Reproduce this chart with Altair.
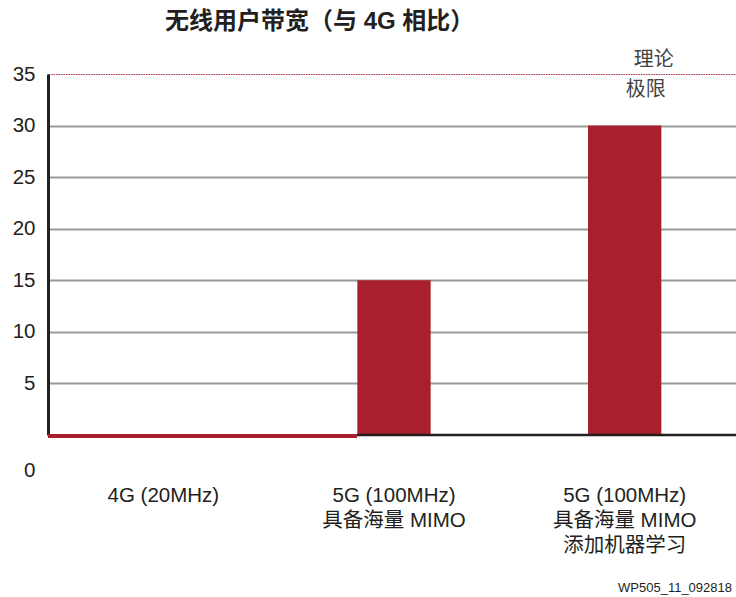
import altair as alt
import pandas as pd

categories = ["4G (20MHz)", "5G (100MHz)|具备海量 MIMO", "5G (100MHz)|具备海量 MIMO|添加机器学习"]
values = [1, 15, 30]
y_ticks = [0, 5, 10, 15, 20, 25, 30, 35]
title_text = "无线用户带宽（与 4G 相比）"
limit_value = 35
limit_labels = ["理论", "极限"]
footnote = "WP505_11_092818"

FONT = "Liberation Sans, Noto Sans CJK SC, sans-serif"
RED = "#a8202e"
W = 688

df = pd.DataFrame({"cat": categories, "val": values})
bars_df = df.iloc[1:]

x_scale = alt.Scale(paddingInner=0, paddingOuter=0, range=[0, 692])
x_enc = alt.X("cat:N", sort=categories, scale=x_scale,
              axis=alt.Axis(title=None, domain=False, ticks=False, labelAngle=0,
                            labelExpr="split(datum.label, '|')", labelFont=FONT,
                            labelFontSize=20.5, labelColor="#231f20", labelPadding=50,
                            labelBaseline="top", labelLineHeight=25))
y_scale = alt.Scale(domain=[0, 35], nice=False, zero=True)

base = alt.Chart(df).encode(
    x=x_enc,
    y=alt.Y("val:Q", scale=y_scale,
            axis=alt.Axis(title=None, values=y_ticks, ticks=False, domainColor="#231f20",
                          domainWidth=3, labelFont=FONT, labelFontSize=20.5, labelColor="#231f20",
                          labelPadding=13,
                          labelOffset=alt.ExprRef("datum.value === 0 ? 35 : 0"),
                          grid=True,
                          gridColor=alt.ExprRef("datum.value === 35 ? '#c0404f' : (datum.value === 0 ? 'transparent' : '#999999')"),
                          gridDash=alt.ExprRef("datum.value === 35 ? [1.5, 1] : []"),
                          gridWidth=alt.ExprRef("datum.value === 35 ? 1.2 : 2"))),
)

bars = alt.Chart(bars_df).mark_bar(color=RED, width=alt.RelativeBandSize(0.318)).encode(
    x=alt.X("cat:N", sort=categories, scale=x_scale), y=alt.Y("val:Q", scale=y_scale))

base_axis = base.mark_point(opacity=0)

red_strip = alt.Chart(df.iloc[:1]).mark_rule(color=RED, strokeWidth=4).encode(
    x=alt.value(0), x2=alt.value(309), y=alt.value(362))
black_base = alt.Chart(df.iloc[:1]).mark_rule(color="#231f20", strokeWidth=2.5).encode(
    x=alt.value(309), x2=alt.value(W), y=alt.Y("zero:Q", scale=y_scale)).transform_calculate(zero="0")

lim_df = pd.DataFrame({"cat": [categories[2]] * 2, "val": [limit_value] * 2,
                       "label": limit_labels, "row": [0, 1]})
lim1 = alt.Chart(lim_df.iloc[:1]).mark_text(font=FONT, fontSize=20, color="#444", dx=29, dy=-14).encode(
    x=alt.X("cat:N", sort=categories, scale=x_scale), y=alt.Y("val:Q", scale=y_scale), text="label:N")
lim2 = alt.Chart(lim_df.iloc[1:]).mark_text(font=FONT, fontSize=20, color="#444", dx=21, dy=16).encode(
    x=alt.X("cat:N", sort=categories, scale=x_scale), y=alt.Y("val:Q", scale=y_scale), text="label:N")

title = alt.Chart(pd.DataFrame({"t": [title_text]})).mark_text(
    font=FONT, fontSize=24, fontWeight="bold", color="#231f20", align="left", baseline="middle").encode(
    x=alt.value(117), y=alt.value(-52), text="t:N")

foot = alt.Chart(pd.DataFrame({"t": [footnote]})).mark_text(
    font=FONT, fontSize=13, color="#231f20", align="right", baseline="middle").encode(
    x=alt.value(684), y=alt.value(514), text="t:N")

chart = alt.layer(base_axis, bars, red_strip, black_base, lim1, lim2, title, foot).properties(
    width=W, height=361,
    autosize=alt.AutoSizeParams(type="none"),
    padding={"left": 48, "top": 74, "right": 0, "bottom": 162},
).configure_view(stroke=None).configure(background="white")

chart.save("out.html", embed_options={"renderer": "svg", "actions": False})
